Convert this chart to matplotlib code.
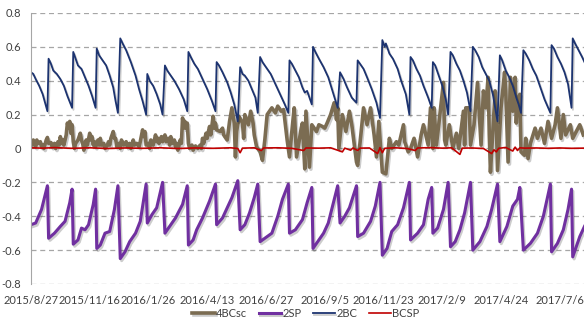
import matplotlib
matplotlib.use('Agg')
import matplotlib.pyplot as plt
import matplotlib.patheffects as pe

plt.rcParams['font.family'] = 'Lato'

# x is the trading-day index, a date label every 50 trading days
tick_pos = [0, 50, 100, 150, 200, 250, 300, 350, 400, 450]
tick_labels = ['2015/8/27', '2015/11/16', '2016/1/26', '2016/4/13', '2016/6/27',
               '2016/9/5', '2016/11/23', '2017/2/9', '2017/4/24', '2017/7/6']

# 4BCsc
bc4_idx = [0, 1, 2, 3, 4, 5, 6, 8, 9, 10, 11, 13, 14, 15, 17, 18, 20, 21, 23, 24,
           25, 26, 27, 28, 30, 31, 32, 33, 34, 35, 36, 37, 38, 40, 42, 43, 44, 45, 47, 48,
           50, 51, 52, 53, 54, 55, 57, 58, 59, 60, 62, 63, 65, 66, 67, 68, 70, 71, 72, 73,
           75, 76, 77, 79, 81, 82, 84, 85, 87, 88, 90, 92, 93, 95, 96, 97, 98, 100, 101, 102,
           104, 106, 107, 108, 109, 111, 112, 114, 115, 117, 118, 119, 120, 122, 123, 124, 125, 127, 128, 129,
           130, 131, 132, 133, 134, 135, 137, 138, 140, 142, 144, 145, 146, 147, 149, 150, 151, 152, 153, 155,
           156, 157, 158, 161, 163, 164, 167, 169, 171, 173, 174, 175, 177, 180, 181, 182, 185,
           187, 189, 190, 192, 195, 197, 199, 201, 203, 205, 208, 210, 213, 215, 218, 220, 222, 224, 226, 230,
           231, 233, 234, 237, 239, 243, 245, 248, 250, 252, 255, 258, 260, 261, 262, 265, 268, 271, 273, 277,
           278, 281, 283, 286, 289, 292, 294, 296, 299, 302, 305, 307, 311, 313, 317, 318, 321, 323, 326, 329,
           332, 334, 338, 340, 342, 343, 345, 347, 351, 352, 353, 356, 359, 362, 364, 368, 369, 370, 373, 374,
           377, 380, 383, 385, 387, 389, 390, 391, 393, 395, 396, 397, 400, 403, 404, 406, 408, 410, 412, 413,
           414, 416, 417, 420, 421, 423, 425, 429, 431, 434, 437, 440, 443, 446, 448, 451, 453, 455, 459, 461,
           464, 467, 470]
bc4_val = [0.04, 0.02, 0.05, 0.03, 0.01, 0.05, 0.03, 0.04, 0.01, 0.02, 0.00, 0.05, 0.065, 0.03, 0.035, 0.01, 0.03, 0.00, 0.04, 0.02,
           0.07, 0.03, 0.05, 0.02, 0.08, 0.15, 0.12, 0.16, 0.09, 0.14, 0.04, 0.00, 0.03, 0.05, 0.09, 0.05, 0.03, -0.01, 0.05, 0.02,
           0.09, 0.05, 0.07, 0.02, 0.04, 0.01, 0.05, 0.02, 0.06, 0.02, 0.03, 0.00, 0.02, 0.04, 0.02, 0.06, 0.10, 0.06, 0.06, 0.01,
           0.03, 0.00, 0.05, 0.02, 0.04, 0.01, 0.03, 0.00, 0.05, 0.02, 0.03, 0.01, 0.04, 0.11, 0.07, 0.10, 0.02, 0.03, 0.00, 0.05,
           0.02, 0.08, 0.04, 0.06, 0.03, 0.07, 0.04, 0.08, 0.04, 0.06, 0.02, 0.07, 0.03, 0.05, 0.01, 0.03, -0.01, 0.05, 0.03, 0.18,
           0.12, 0.16, 0.12, 0.15, 0.03, 0.00, 0.02, -0.01, 0.015, 0.00, 0.02, 0.00, 0.06, 0.03, 0.09, 0.06, 0.10, 0.13, 0.08, 0.19,
           0.12, 0.15, 0.11, 0.10, 0.12, 0.08, 0.05, 0.16, 0.24, 0.15, -0.05, 0.10, 0.19, 0.15, 0.06, 0.20, 0.14,
           0.22, 0.15, 0.08, 0.01, -0.02, -0.07, 0.05, 0.20, 0.22, 0.24, 0.21, 0.25, 0.22, 0.23, 0.05, -0.05, 0.10, 0.24, -0.05, 0.12,
           0.15, -0.12, 0.22, -0.11, 0.14, 0.10, 0.14, 0.13, 0.12, 0.15, 0.20, 0.27, 0.17, 0.24, 0.00, 0.20, 0.10, 0.22, 0.14, -0.08,
           -0.10, 0.10, 0.24, 0.14, 0.24, 0.08, -0.05, 0.16, -0.14, -0.15, 0.06, 0.00, 0.04, 0.02, 0.14, 0.04, -0.02, 0.00, 0.06, -0.05,
           0.08, 0.14, 0.02, 0.24, 0.00, 0.24, 0.02, 0.14, 0.39, 0.05, 0.02, 0.14, 0.00, 0.09, 0.00, 0.22, 0.02, 0.24, 0.24, 0.02,
           0.14, 0.39, 0.02, 0.34, 0.24, 0.42, 0.08, -0.14, 0.10, 0.34, 0.15, -0.13, 0.24, 0.45, 0.34, -0.08, 0.42, 0.22, 0.42, 0.15,
           0.28, 0.32, -0.02, -0.04, 0.06, -0.06, 0.03, 0.12, 0.06, 0.12, 0.03, 0.16, 0.06, 0.14, 0.24, 0.06, 0.20, 0.08, 0.14, 0.06,
           0.10, 0.14, 0.08]

# 2SP
sp2_idx = [0, 4, 9, 14, 15, 20, 25, 29, 33, 35, 36, 40, 43, 46, 49, 53, 55, 56, 59, 63,
           67, 71, 74, 76, 80, 84, 89, 93, 98, 99, 103, 107, 112, 114, 118, 123, 129, 133, 134, 138,
           141, 146, 152, 157, 158, 163, 167, 171, 176, 178, 182, 186, 190, 193, 195, 199, 205, 210, 214, 219,
           220, 225, 231, 235, 239, 240, 244, 249, 253, 257, 261, 263, 267, 271, 277, 278, 283, 289, 293, 297,
           299, 303, 307, 312, 317, 322, 323, 329, 334, 338, 341, 342, 346, 351, 355, 357, 361, 365, 369, 374,
           376, 382, 388, 392, 397, 399, 405, 410, 414, 416, 419, 425, 431, 436, 442, 443, 448, 453, 457, 460,
           461, 467, 471]
sp2_val = [-0.45, -0.44, -0.36, -0.22, -0.53, -0.50, -0.46, -0.43, -0.32, -0.24, -0.565, -0.54, -0.47, -0.48, -0.45, -0.33, -0.24, -0.59, -0.57, -0.50,
           -0.49, -0.36, -0.22, -0.65, -0.61, -0.55, -0.50, -0.43, -0.21, -0.44, -0.39, -0.35, -0.20, -0.50, -0.46, -0.41, -0.33, -0.22, -0.57, -0.54,
           -0.48, -0.41, -0.31, -0.21, -0.45, -0.41, -0.35, -0.29, -0.19, -0.48, -0.45, -0.38, -0.29, -0.21, -0.55, -0.53, -0.50, -0.40, -0.30, -0.21,
           -0.50, -0.48, -0.42, -0.32, -0.23, -0.59, -0.55, -0.50, -0.44, -0.33, -0.22, -0.44, -0.40, -0.35, -0.22, -0.52, -0.50, -0.43, -0.34, -0.20,
           -0.63, -0.59, -0.49, -0.45, -0.35, -0.20, -0.54, -0.50, -0.45, -0.30, -0.23, -0.50, -0.47, -0.36, -0.20, -0.58, -0.55, -0.48, -0.38, -0.20,
           -0.60, -0.55, -0.46, -0.36, -0.21, -0.55, -0.46, -0.34, -0.30, -0.23, -0.60, -0.56, -0.50, -0.40, -0.21, -0.61, -0.56, -0.48, -0.36, -0.24,
           -0.64, -0.52, -0.46]

# 2BC
bc2_idx = [0, 2, 4, 7, 10, 12, 14, 15, 17, 19, 22, 25, 28, 31, 35, 36, 38, 40, 43, 46,
           49, 52, 55, 56, 58, 61, 64, 67, 70, 72, 74, 76, 78, 81, 85, 89, 92, 95, 98, 99,
           101, 104, 107, 110, 112, 114, 116, 119, 122, 126, 130, 133, 134, 136, 139, 142, 146, 150, 154, 157,
           158, 160, 163, 167, 170, 173, 176, 178, 180, 182, 185, 188, 191, 193, 195, 197, 200, 204, 208, 212,
           216, 219, 220, 222, 225, 228, 231, 233, 235, 239, 240, 242, 245, 249, 253, 257, 261, 263, 266, 269,
           273, 277, 278, 280, 283, 286, 290, 294, 297, 299, 301, 302, 305, 308, 312, 315, 319, 322, 323, 325,
           328, 331, 334, 338, 341, 342, 344, 347, 350, 353, 355, 357, 359, 362, 365, 368, 371, 374, 376, 378,
           381, 384, 387, 390, 393, 395, 397, 399, 401, 404, 407, 410, 413, 415, 417, 419, 421, 424, 427, 430,
           433, 437, 442, 443, 445, 448, 451, 454, 457, 460, 461, 463, 466, 469, 471]
bc2_val = [0.45, 0.44, 0.41, 0.37, 0.32, 0.27, 0.22, 0.53, 0.50, 0.46, 0.44, 0.41, 0.37, 0.31, 0.24, 0.57, 0.53, 0.49, 0.47, 0.42,
           0.37, 0.31, 0.24, 0.59, 0.55, 0.52, 0.49, 0.43, 0.36, 0.28, 0.21, 0.65, 0.62, 0.58, 0.51, 0.43, 0.35, 0.28, 0.20, 0.44,
           0.40, 0.37, 0.32, 0.26, 0.20, 0.49, 0.46, 0.43, 0.40, 0.35, 0.29, 0.22, 0.57, 0.54, 0.50, 0.47, 0.41, 0.35, 0.28, 0.22,
           0.51, 0.49, 0.45, 0.39, 0.33, 0.26, 0.16, 0.48, 0.44, 0.43, 0.40, 0.35, 0.30, 0.21, 0.54, 0.51, 0.48, 0.44, 0.38, 0.32,
           0.26, 0.21, 0.52, 0.50, 0.46, 0.42, 0.36, 0.33, 0.34, 0.26, 0.60, 0.57, 0.53, 0.48, 0.42, 0.33, 0.24, 0.45, 0.41, 0.36,
           0.30, 0.27, 0.52, 0.50, 0.47, 0.42, 0.35, 0.27, 0.18, 0.64, 0.60, 0.62, 0.56, 0.53, 0.47, 0.40, 0.32, 0.20, 0.54, 0.52,
           0.47, 0.43, 0.37, 0.30, 0.24, 0.51, 0.49, 0.43, 0.37, 0.29, 0.20, 0.57, 0.55, 0.50, 0.46, 0.40, 0.33, 0.22, 0.60, 0.58,
           0.54, 0.48, 0.44, 0.40, 0.32, 0.24, 0.16, 0.55, 0.52, 0.46, 0.42, 0.37, 0.30, 0.26, 0.21, 0.58, 0.56, 0.52, 0.47, 0.43,
           0.37, 0.29, 0.21, 0.61, 0.59, 0.54, 0.50, 0.45, 0.38, 0.24, 0.65, 0.62, 0.58, 0.54, 0.51]

# BCSP
bcsp_idx = [0, 10, 20, 35, 50, 65, 80, 95, 110, 125, 140, 155, 170, 176, 178, 180, 190, 196, 198, 210,
            222, 232, 234, 245, 255, 265, 267, 272, 274, 278, 280, 288, 295, 297, 299, 301, 310, 320, 327, 329,
            340, 350, 358, 365, 367, 375, 385, 392, 394, 396, 398, 404, 410, 412, 414, 416, 420, 430, 440, 450,
            460, 470]
bcsp_val = [0.004, 0.002, 0.005, 0.001, 0.004, 0.000, 0.003, 0.001, 0.004, 0.000, 0.003, 0.001, 0.004, 0.000, -0.025, 0.002, 0.004, -0.012, 0.003, 0.004,
            0.001, -0.012, 0.003, 0.002, 0.004, -0.020, 0.002, -0.010, 0.003, -0.012, 0.002, 0.003, -0.030, 0.005, -0.025, 0.001, 0.004, 0.000, -0.012, 0.003,
            0.005, 0.002, 0.004, -0.035, 0.002, 0.003, 0.000, -0.030, -0.008, -0.020, 0.001, 0.006, -0.015, 0.008, -0.012, 0.004, 0.002, 0.003, 0.001, 0.003,
            0.001, 0.002]

fig = plt.figure(figsize=(5.84, 3.2), dpi=100)
ax = fig.add_axes([0.053, 0.1125, 0.947, 0.847])

shadow = [pe.SimpleLineShadow(offset=(1, -1.5), alpha=0.2), pe.Normal()]
ax.plot(bc4_idx, bc4_val, color='#7b6c52', lw=2.6, label='4BCsc', path_effects=shadow)
ax.plot(sp2_idx, sp2_val, color='#7030a0', lw=2.2, label='2SP', path_effects=shadow)
ax.plot(bc2_idx, bc2_val, color='#1c3370', lw=1.3, label='2BC', path_effects=shadow)
ax.plot(bcsp_idx, bcsp_val, color='#c00000', lw=1.2, label='BCSP')

yticks = [-0.8, -0.6, -0.4, -0.2, 0, 0.2, 0.4, 0.6, 0.8]
ax.set_ylim(-0.8, 0.8)
ax.set_yticks(yticks)
ax.set_yticklabels([f'{v:g}' for v in yticks])
ax.set_xlim(0, 470.6)
ax.set_xticks(tick_pos)
ax.set_xticklabels(tick_labels)

ax.grid(axis='y', linestyle=(0, (4, 3)), color='#a6a6a6', lw=0.9)
ax.set_axisbelow(True)
for s in ['top', 'right', 'bottom']:
    ax.spines[s].set_visible(False)
ax.spines['left'].set_color('#a6a6a6')
ax.tick_params(length=0, labelsize=8, colors='#404040')
ax.tick_params(axis='y', pad=7)
ax.tick_params(axis='x', pad=8)

fig.legend(loc='center', bbox_to_anchor=(0.524, 0.02), ncol=4, frameon=False,
           fontsize=8, handlelength=2.0, handletextpad=0.15, columnspacing=1.0,
           labelcolor='#404040')

fig.savefig('out.png', dpi=100)
